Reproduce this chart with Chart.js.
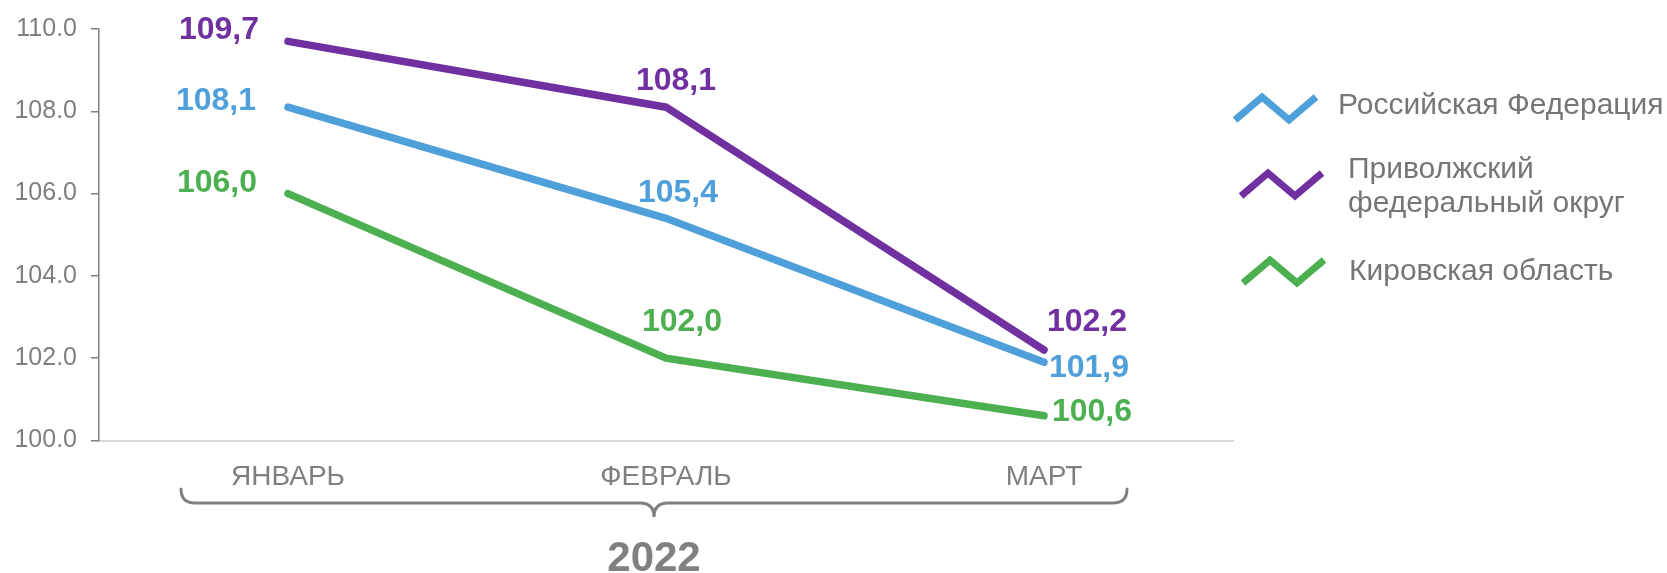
<!DOCTYPE html>
<html>
<head>
<meta charset="utf-8">
<script src="https://cdn.jsdelivr.net/npm/chart.js@4.4.1/dist/chart.umd.min.js"></script>
<style>
  html, body { margin: 0; padding: 0; background: #ffffff; }
  #wrap { width: 1667px; height: 573px; position: relative; }
</style>
</head>
<body>
<div id="wrap"><canvas id="c" width="1667" height="573"></canvas></div>
<script>
// ---- data ----
const categories = ['ЯНВАРЬ', 'ФЕВРАЛЬ', 'МАРТ'];
const seriesNames = ['Российская Федерация', 'Приволжский федеральный округ', 'Кировская область'];
const rfValues = [108.1, 105.4, 101.9];
const pfoValues = [109.7, 108.1, 102.2];
const kirovValues = [106.0, 102.0, 100.6];
const yearLabel = '2022';
const yMin = 100, yMax = 110, yStep = 2;

// ---- styles ----
const colors = ['#4FA0DA', '#7030A0', '#4CAF50'];
const gray = '#7F7F7F';
const FONT = "'Liberation Sans', Arial, sans-serif";

// label offsets relative to each point (per dataset, per category)
const labelOffsets = [
  [[-72, -6], [12, -25], [45, 6]],
  [[-69, -11], [10, -26], [43, -28]],
  [[-71, -10], [16, -36], [48, -4]]
];

const valueLabels = {
  id: 'valueLabels',
  afterDatasetsDraw(chart) {
    const ctx = chart.ctx;
    ctx.save();
    ctx.font = "bold 32px " + FONT;
    ctx.textAlign = 'center';
    ctx.textBaseline = 'middle';
    chart.data.datasets.forEach((ds, i) => {
      const meta = chart.getDatasetMeta(i);
      meta.data.forEach((pt, j) => {
        const off = labelOffsets[i][j];
        ctx.fillStyle = ds.borderColor;
        ctx.fillText(ds.data[j].toFixed(1).replace('.', ','), pt.x + off[0], pt.y + off[1]);
      });
    });
    ctx.restore();
  }
};

// legend layout (positions of icon start and text)
const legendItems = [
  { ix: 1235, iy: 120, tx: 1338, ty: 114 },
  { ix: 1241, iy: 196, tx: 1348, ty: 178 },
  { ix: 1243, iy: 283, tx: 1349, ty: 280 }
];

const customLegend = {
  id: 'customLegend',
  afterDraw(chart) {
    const ctx = chart.ctx;
    ctx.save();
    chart.data.datasets.forEach((ds, i) => {
      const L = legendItems[i];
      ctx.strokeStyle = ds.borderColor;
      ctx.lineWidth = 7;
      ctx.lineJoin = 'miter';
      ctx.lineCap = 'butt';
      ctx.beginPath();
      ctx.moveTo(L.ix, L.iy);
      ctx.lineTo(L.ix + 27, L.iy - 23);
      ctx.lineTo(L.ix + 54, L.iy);
      ctx.lineTo(L.ix + 81, L.iy - 23);
      ctx.stroke();
      ctx.font = "30px " + FONT;
      ctx.fillStyle = '#767676';
      ctx.textAlign = 'left';
      ctx.textBaseline = 'alphabetic';
      // wrap words
      const words = ds.label.split(' ');
      const lines = [];
      let cur = '';
      const maxW = 330;
      words.forEach(w => {
        const test = cur ? cur + ' ' + w : w;
        if (ctx.measureText(test).width > maxW && cur) { lines.push(cur); cur = w; }
        else cur = test;
      });
      if (cur) lines.push(cur);
      lines.forEach((ln, k) => ctx.fillText(ln, L.tx, L.ty + k * 34));
    });
    ctx.restore();
  }
};

const braceYear = {
  id: 'braceYear',
  afterDraw(chart) {
    const ctx = chart.ctx;
    const xs = chart.scales.x;
    const xl = xs.getPixelForValue(0) - 107;
    const xr = xs.getPixelForValue(2) + 83;
    const xc = (xl + xr) / 2;
    const yTop = 489, yBar = 503, yTip = 517, r = 14;
    ctx.save();
    ctx.strokeStyle = '#808080';
    ctx.lineWidth = 3;
    ctx.lineCap = 'round';
    ctx.beginPath();
    ctx.moveTo(xl, yTop);
    ctx.quadraticCurveTo(xl, yBar, xl + r, yBar);
    ctx.lineTo(xc - r, yBar);
    ctx.quadraticCurveTo(xc, yBar, xc, yTip);
    ctx.quadraticCurveTo(xc, yBar, xc + r, yBar);
    ctx.lineTo(xr - r, yBar);
    ctx.quadraticCurveTo(xr, yBar, xr, yTop);
    ctx.stroke();
    ctx.font = "bold 42px " + FONT;
    ctx.fillStyle = '#808080';
    ctx.textAlign = 'center';
    ctx.textBaseline = 'alphabetic';
    ctx.fillText(yearLabel, xc, 571);
    ctx.restore();
  }
};

const seriesValues = [rfValues, pfoValues, kirovValues];

new Chart(document.getElementById('c'), {
  type: 'line',
  data: {
    labels: categories,
    datasets: seriesValues.map((vals, i) => ({
      label: seriesNames[i],
      data: vals,
      borderColor: colors[i],
      backgroundColor: colors[i],
      borderWidth: 7.5,
      borderCapStyle: 'round',
      borderJoinStyle: 'miter',
      pointRadius: 0,
      pointHoverRadius: 0,
      tension: 0,
      fill: false
    }))
  },
  options: {
    responsive: false,
    animation: false,
    devicePixelRatio: 1,
    layout: { padding: { top: 24.5, right: 434, bottom: 0, left: 0 } },
    plugins: { legend: { display: false }, tooltip: { enabled: false } },
    scales: {
      x: {
        offset: true,
        grid: { display: false, drawTicks: false },
        border: { display: true, color: '#D9D9D9', width: 2 },
        ticks: { color: gray, font: { family: FONT, size: 28 }, padding: 20, maxRotation: 0 },
        afterFit(s) { s.height = 132.5; }
      },
      y: {
        min: yMin, max: yMax,
        grid: { drawOnChartArea: false, drawTicks: true, tickLength: 8, color: '#808080', lineWidth: 1.5 },
        border: { display: true, color: '#808080', width: 1.5 },
        ticks: {
          stepSize: yStep,
          color: gray,
          padding: 14,
          font: { family: FONT, size: 25 },
          callback: v => Number(v).toFixed(1)
        },
        afterFit(s) { s.width = 99; }
      }
    }
  },
  plugins: [valueLabels, customLegend, braceYear]
});
</script>
</body>
</html>
